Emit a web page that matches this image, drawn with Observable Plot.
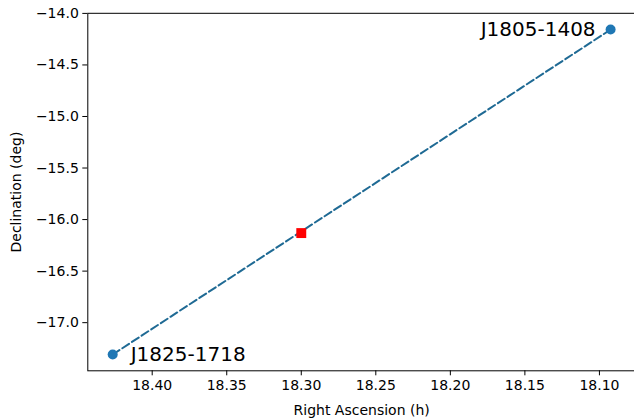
<!DOCTYPE html>
<html>
<head>
<meta charset="utf-8">
<script src="https://cdn.jsdelivr.net/npm/d3@7"></script>
<script src="https://cdn.jsdelivr.net/npm/@observablehq/plot@0.6"></script>
<style>
  html, body { margin: 0; padding: 0; background: white; }
  #chart { width: 634px; height: 418px; overflow: hidden; }
</style>
</head>
<body>
<div id="chart"></div>
<script>
// Data
const pulsarNames = ["J1825-1718", "J1805-1408"];
const pulsarRA = [18.4265, 18.0925];   // hours
const pulsarDec = [-17.309, -14.157];  // degrees
const centerRA = [18.30];
const centerDec = [-16.131];
const xTickValues = [18.40, 18.35, 18.30, 18.25, 18.20, 18.15, 18.10];
const yTickValues = [-14.0, -14.5, -15.0, -15.5, -16.0, -16.5, -17.0];

const pulsars = pulsarNames.map((n, i) => ({name: n, ra: pulsarRA[i], dec: pulsarDec[i]}));
const center = centerRA.map((r, i) => ({ra: r, dec: centerDec[i]}));

const chart = Plot.plot({
  width: 634,
  height: 418,
  marginLeft: 87.3,
  marginRight: -1,
  marginTop: 12.8,
  marginBottom: 47.7,
  x: {domain: [18.4432, 18.0758]},
  y: {domain: [-17.467, -13.999]},
  style: {fontFamily: "DejaVu Sans", fontSize: "14px", color: "black", background: "white", overflow: "visible"},
  marks: [
    Plot.line(pulsars, {x: "ra", y: "dec", stroke: "#1f6a94", strokeWidth: 2, strokeDasharray: "8,3.5"}),
    Plot.dot(pulsars, {x: "ra", y: "dec", r: 5, fill: "#1f77b4", stroke: "none"}),
    Plot.dot(center, {x: "ra", y: "dec", symbol: "square", r: 5.6, fill: "#ff0000", stroke: "none"}),
    Plot.text([pulsars[0]], {x: "ra", y: "dec", text: "name", textAnchor: "start", dx: 18, fontSize: 20, fill: "black"}),
    Plot.text([pulsars[1]], {x: "ra", y: "dec", text: "name", textAnchor: "end", dx: -15, fontSize: 20, fill: "black"}),
    Plot.frame({stroke: "black", strokeWidth: 1}),
    Plot.axisX({
      ticks: xTickValues,
      tickFormat: d => d.toFixed(2),
      tickSize: 5,
      tickPadding: 4,
      fontSize: 14,
      label: "Right Ascension (h)",
      labelAnchor: "center",
      labelArrow: "none",
      labelOffset: 44
    }),
    Plot.axisY({
      ticks: yTickValues,
      tickFormat: d => d.toFixed(1).replace("-", "\u2212"),
      tickSize: 5,
      tickPadding: 4,
      fontSize: 14,
      label: "Declination (deg)",
      labelAnchor: "center",
      labelArrow: "none",
      labelOffset: 77
    })
  ]
});
document.getElementById("chart").appendChild(chart);
</script>
</body>
</html>
